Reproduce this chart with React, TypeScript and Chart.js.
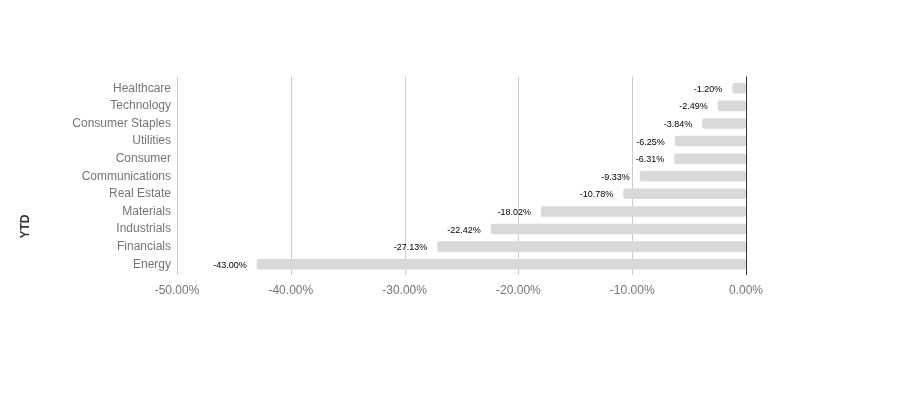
import React, { useEffect, useRef } from "react";
import { Chart, registerables } from "chart.js";

Chart.register(...registerables);

const categories = [
  "Healthcare",
  "Technology",
  "Consumer Staples",
  "Utilities",
  "Consumer",
  "Communications",
  "Real Estate",
  "Materials",
  "Industrials",
  "Financials",
  "Energy",
];
const ytdValues = [-1.2, -2.49, -3.84, -6.25, -6.31, -9.33, -10.78, -18.02, -22.42, -27.13, -43.0];
const xTickValues = [-50, -40, -30, -20, -10, 0];
const axisTitle = "YTD";

const FONT = "Arial, 'Liberation Sans', sans-serif";

const gridPlugin = {
  id: "customGrid",
  beforeDatasetsDraw(chart: any) {
    const { ctx, chartArea, scales } = chart;
    const x = scales.x;
    ctx.save();
    xTickValues.forEach((v) => {
      if (v === 0) return;
      const px = Math.round(x.getPixelForValue(v)) + 0.5;
      ctx.strokeStyle = "#cccccc";
      ctx.lineWidth = 1;
      ctx.beginPath();
      ctx.moveTo(px, chartArea.top - 3);
      ctx.lineTo(px, chartArea.bottom + 2);
      ctx.stroke();
    });
    ctx.restore();
  },
  afterDatasetsDraw(chart: any) {
    const { ctx, chartArea, scales } = chart;
    const x = scales.x;
    ctx.save();
    const px = Math.round(x.getPixelForValue(0)) + 0.5;
    ctx.strokeStyle = "#333333";
    ctx.lineWidth = 1;
    ctx.beginPath();
    ctx.moveTo(px, chartArea.top - 3);
    ctx.lineTo(px, chartArea.bottom + 2);
    ctx.stroke();

    // value labels
    const meta = chart.getDatasetMeta(0);
    ctx.font = `9px ${FONT}`;
    ctx.fillStyle = "#000000";
    ctx.textAlign = "right";
    ctx.textBaseline = "middle";
    meta.data.forEach((bar: any, i: number) => {
      const v = ytdValues[i];
      ctx.fillText(v.toFixed(2) + "%", bar.x - 10, bar.y + 1);
    });

    // axis title
    ctx.font = `bold 12px ${FONT}`;
    ctx.fillStyle = "#333333";
    ctx.textAlign = "center";
    ctx.textBaseline = "middle";
    ctx.translate(26, chartArea.top + (chartArea.bottom - chartArea.top) * 0.76);
    ctx.rotate(-Math.PI / 2);
    ctx.fillText(axisTitle, 0, 0);
    ctx.restore();
  },
};

export default function App() {
  const ref = useRef<HTMLCanvasElement>(null);
  useEffect(() => {
    if (!ref.current) return;
    const chart = new Chart(ref.current, {
      type: "bar",
      data: {
        labels: categories,
        datasets: [
          {
            data: ytdValues,
            backgroundColor: "#d9d9d9",
            borderRadius: 2,
            borderSkipped: false,
            categoryPercentage: 1,
            barPercentage: 0.6,
          },
        ],
      },
      options: {
        indexAxis: "y",
        responsive: false,
        animation: false,
        maintainAspectRatio: false,
        layout: { padding: { top: 79.5, right: 175, left: 0, bottom: 0 } },
        plugins: { legend: { display: false }, tooltip: { enabled: false } },
        scales: {
          x: {
            min: -50,
            max: 0,
            afterFit(scale: any) {
              scale.height = 123;
            },
            afterBuildTicks(scale: any) {
              scale.ticks = xTickValues.map((v) => ({ value: v }));
            },
            border: { display: false },
            grid: { display: false, drawTicks: false },
            ticks: {
              padding: 10,
              color: "#757575",
              font: { family: FONT, size: 12 },
              callback: (v: any) => Number(v).toFixed(2) + "%",
            },
          },
          y: {
            afterFit(scale: any) {
              scale.width = 177;
            },
            border: { display: false },
            grid: { display: false, drawTicks: false },
            ticks: {
              padding: 6,
              color: "#757575",
              font: { family: FONT, size: 12 },
            },
          },
        },
      },
      plugins: [gridPlugin],
    });
    return () => chart.destroy();
  }, []);
  return (
    <div style={{ position: "fixed", left: 0, top: 0, width: 921, height: 396, background: "#fff" }}>
      <canvas ref={ref} width={921} height={396} style={{ width: 921, height: 396 }} />
    </div>
  );
}
